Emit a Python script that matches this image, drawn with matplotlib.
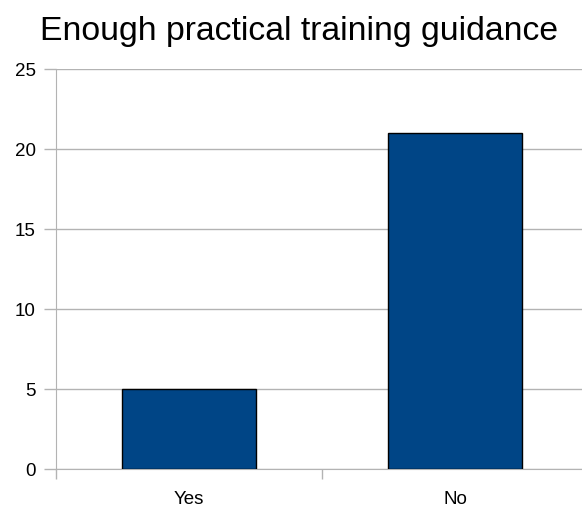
import matplotlib
matplotlib.use("Agg")
import matplotlib.pyplot as plt

categories = ["Yes", "No"]
values = [5, 21]
yticks = [0, 5, 10, 15, 20, 25]
title = "Enough practical training guidance"

plt.rcParams['font.family'] = ['Liberation Sans', 'DejaVu Sans']

W, H = 582, 508
fig = plt.figure(figsize=(W/100, H/100), dpi=100)
left, right, bottom, top = 56, 588, 469, 69
ax = fig.add_axes([left/W, (H-bottom)/H, (right-left)/W, (bottom-top)/H])

x = list(range(len(categories)))
ax.bar(x, values, width=0.505, color="#004586", edgecolor="black", linewidth=1.0, zorder=3)
ax.set_xlim(-0.5, len(categories) - 0.5)
ax.set_ylim(0, 25)
ax.set_yticks(yticks)
ax.yaxis.grid(True, color="#b3b3b3", linewidth=1.0, zorder=0)
ax.set_xticks(x)
ax.set_xticklabels(categories)
ax.set_xticks([-0.5, 0.5, 1.5], minor=True)
ax.tick_params(axis='x', which='major', length=0, pad=16, labelsize=13.5)
ax.tick_params(axis='x', which='minor', length=7.5, color="#b3b3b3", width=1)
ax.tick_params(axis='y', length=8.5, color="#b3b3b3", width=1, labelsize=13.5, pad=6)
for s in ["top", "right"]:
    ax.spines[s].set_visible(False)
ax.spines["left"].set_color("#b3b3b3")
ax.spines["bottom"].set_color("#b3b3b3")
fig.text(0.5 * (40 + 557) / W, 1 - 40/H, title, ha="center", va="baseline", fontsize=24.3)
fig.savefig("out.png", dpi=100)
